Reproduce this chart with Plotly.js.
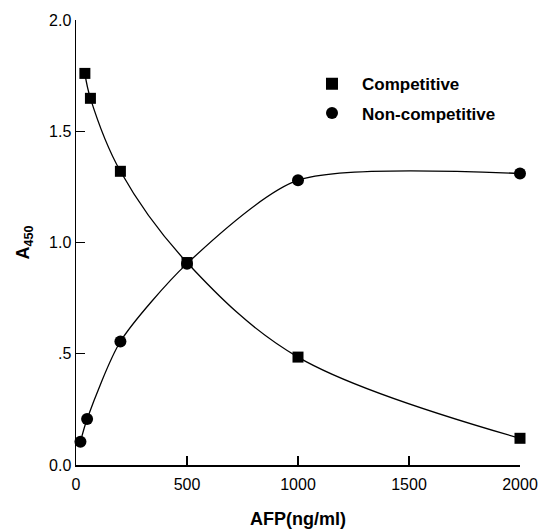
<!DOCTYPE html>
<html>
<head>
<meta charset="utf-8">
<script src="https://cdn.plot.ly/plotly-3.0.1.min.js"></script>
<style>html,body{margin:0;padding:0;background:#fff;}#chart{width:540px;height:530px;}</style>
</head>
<body>
<div id="chart"></div>
<script>
// Data
const compX = [40, 65, 200, 500, 1000, 2000];
const compY = [1.76, 1.648, 1.32, 0.91, 0.485, 0.12];
const nonCompX = [20, 50, 200, 500, 1000, 2000];
const nonCompY = [0.105, 0.207, 0.555, 0.905, 1.28, 1.31];
const seriesNames = ["Competitive", "Non-competitive"];
const yTickVals = [0, 0.5, 1.0, 1.5, 2.0];
const yTickText = ["0.0", ".5", "1.0", "1.5", "2.0"];
const xTickVals = [0, 500, 1000, 1500, 2000];
const xTickText = ["0", "500", "1000", "1500", "2000"];

const FONT = "Liberation Sans, Arial, Helvetica, sans-serif";

const traces = [
  {x: compX, y: compY, mode: "lines", line: {color: "#000", width: 1.3, shape: "spline", smoothing: 1}, showlegend: false, hoverinfo: "skip", cliponaxis: false},
  {x: nonCompX, y: nonCompY, mode: "lines", line: {color: "#000", width: 1.3, shape: "spline", smoothing: 0.7}, showlegend: false, hoverinfo: "skip", cliponaxis: false},
  {x: compX, y: compY, mode: "markers", name: seriesNames[0], legendgroup: "a", marker: {symbol: "square", size: 11, color: "#000"}, cliponaxis: false},
  {x: nonCompX, y: nonCompY, mode: "markers", name: seriesNames[1], legendgroup: "b", marker: {symbol: "circle", size: 12, color: "#000"}, cliponaxis: false}
];

const layout = {
  width: 540, height: 530,
  margin: {l: 76, r: 20, t: 20, b: 65},
  paper_bgcolor: "#fff", plot_bgcolor: "#fff",
  font: {family: FONT, color: "#000", size: 16},
  xaxis: {
    range: [0, 2000], showgrid: false, zeroline: false,
    showline: true, linecolor: "#000", linewidth: 1.5,
    ticks: "inside", ticklen: 9, tickwidth: 1.3, tickcolor: "#000",
    tickvals: xTickVals, ticktext: xTickText, ticklabelstandoff: 4,
    tickfont: {size: 16, family: FONT},
    title: {text: "<b>AFP(ng/ml)</b>", font: {size: 18, family: FONT}, standoff: 20}
  },
  yaxis: {
    range: [0, 2.0], showgrid: false, zeroline: false,
    showline: true, linecolor: "#000", linewidth: 1.5,
    ticks: "inside", ticklen: 9, tickwidth: 1.3, tickcolor: "#000",
    tickvals: yTickVals, ticktext: yTickText,
    tickfont: {size: 16, family: FONT},
    title: {text: "<b>A<sub>450</sub></b>", font: {size: 18, family: FONT}, standoff: 14}
  },
  legend: {
    x: 0.509, y: 0.896, xanchor: "left", yanchor: "top",
    bgcolor: "rgba(0,0,0,0)", borderwidth: 0,
    font: {size: 17, family: FONT, weight: "bold"},
    itemsizing: "constant", itemwidth: 50, tracegroupgap: 4
  },
  showlegend: true
};

Plotly.newPlot("chart", traces, layout, {staticPlot: true, displayModeBar: false});
</script>
</body>
</html>
